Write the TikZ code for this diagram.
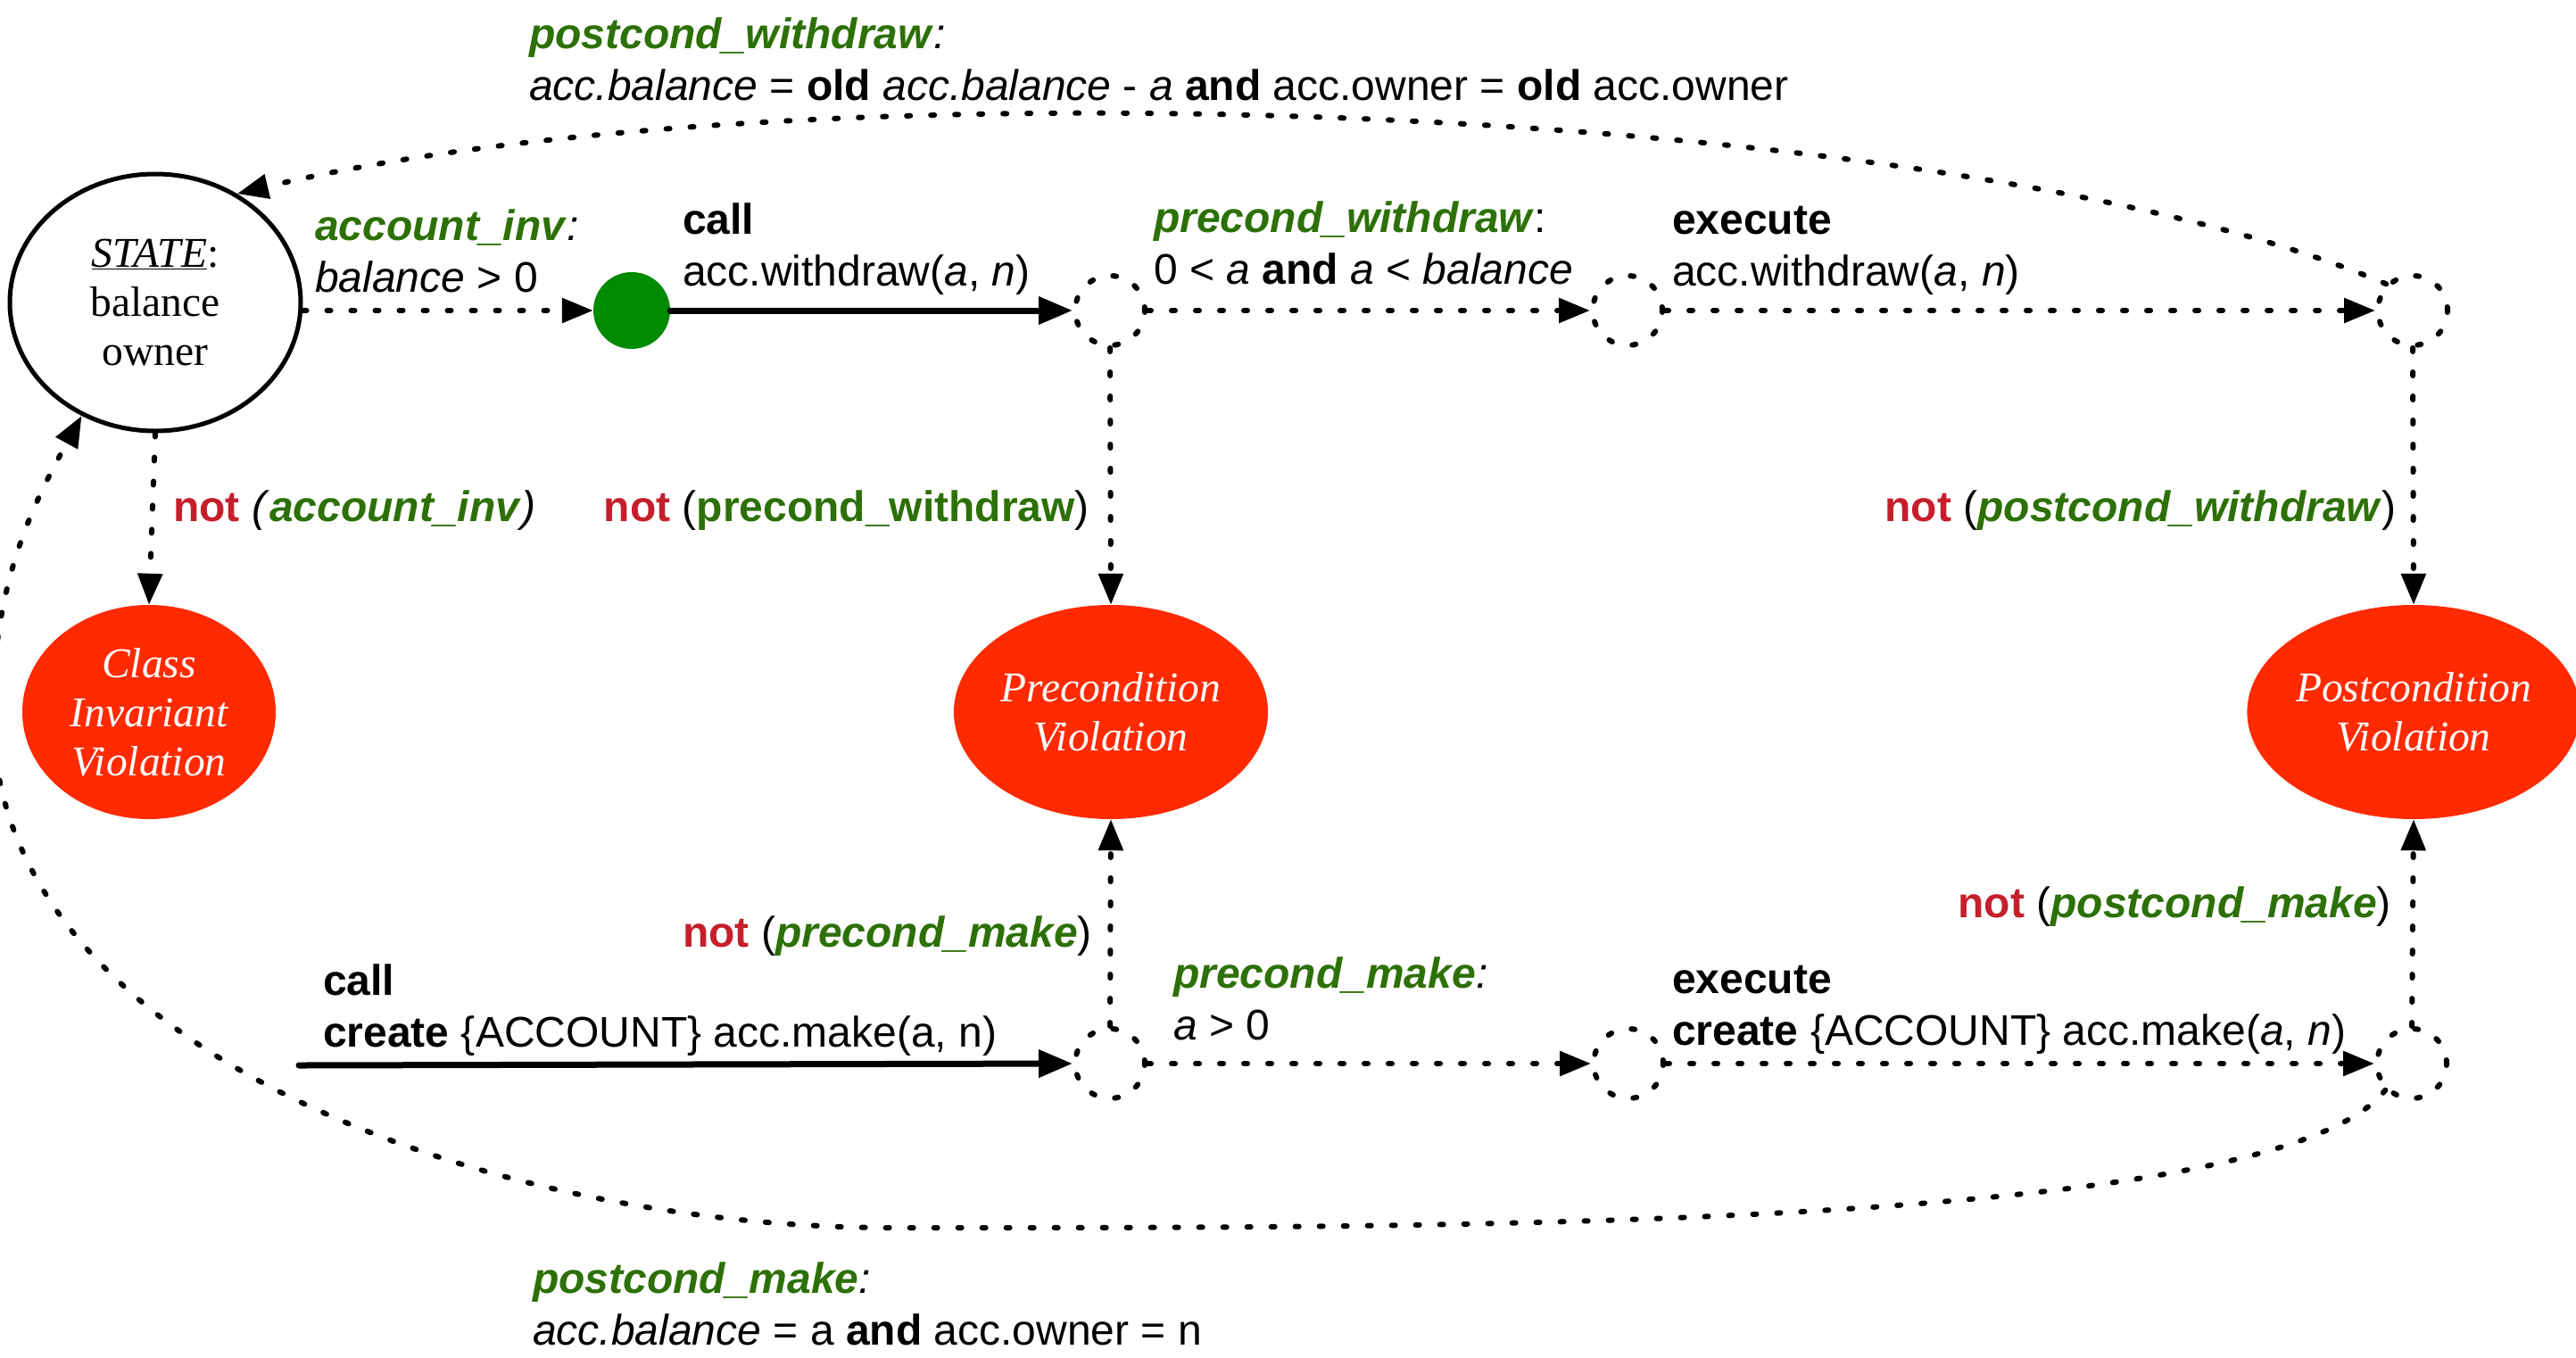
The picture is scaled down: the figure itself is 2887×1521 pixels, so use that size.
\documentclass[tikz,border=0pt]{standalone}
\usepackage{fontspec}
\setmainfont{Liberation Sans}
\newfontfamily\statefont{Liberation Serif}
\usetikzlibrary{arrows.meta,shapes.geometric}
\definecolor{gtext}{RGB}{44,112,6}
\definecolor{rtext}{RGB}{197,31,43}
\definecolor{viol}{RGB}{255,42,0}
\definecolor{dotg}{RGB}{0,138,0}
\newcommand\gtx[1]{\textcolor{gtext}{\textbf{\textit{#1}}}}
\newcommand\rnot{\textcolor{rtext}{\textbf{not}}}
\begin{document}
\begin{tikzpicture}[x=1pt,y=-1pt,
  lbl/.style={inner sep=0pt, font=\fontsize{48}{57.5}\selectfont, align=left, anchor=base west},
  lblr/.style={lbl, anchor=base east},
  dotline/.style={line width=6pt, line cap=round, dash pattern=on 4pt off 23pt},
  dotarrow/.style={dotline, -{Triangle[length=35pt,width=27pt]}},
  solidarrow/.style={line width=7pt, line cap=round, -{Triangle[length=38pt,width=30pt]}},
  junction/.style={circle, minimum size=78pt, inner sep=0pt, dotline, draw},
  violation/.style={ellipse, fill=viol, inner sep=0pt, minimum height=240pt, text=white,
    font=\statefont\itshape\fontsize{47.5}{55}\selectfont, align=center},
  statenode/.style={ellipse, draw, line width=5pt, minimum width=326pt, minimum height=288pt,
    inner sep=0pt, font=\statefont\fontsize{47.5}{55}\selectfont, align=center}
]
\useasboundingbox (0,0) rectangle (2887,1521);

% states
\node[statenode] (STATE) at (174,339) {\underline{\textit{STATE}}:\\balance\\owner};
\node[circle, fill=dotg, minimum size=86pt, inner sep=0pt] (dot) at (708,348) {};
\node[junction] (c1) at (1244,348) {};
\node[junction] (c2) at (1824,348) {};
\node[junction] (c3) at (2704,348) {};
\node[junction] (c4) at (1244,1192) {};
\node[junction] (c5) at (1825,1192) {};
\node[junction] (c6) at (2703,1192) {};
\node[violation, minimum width=284pt] (CIV) at (167,798) {Class\\Invariant\\Violation};
\node[violation, minimum width=352pt] (PV) at (1245,798) {Precondition\\Violation};
\node[violation, minimum width=352pt] (POV) at (2705,798) {Postcondition\\Violation};
\coordinate (mkstart) at (335,1194);

% connectors
\draw[dotarrow] (STATE.east |- dot.center) -- (dot.west);
\draw[solidarrow] (dot.east) -- (c1.west);
\draw[dotarrow] (c1.east) -- (c2.west);
\draw[dotarrow] (c2.east) -- (c3.west);
\draw[dotarrow] (c3.north west) .. controls (2200,115) and (900,65) .. (STATE.53);
\draw[dotarrow] (STATE.south) -- (CIV.north);
\draw[dotarrow] (c1.south) -- (PV.north);
\draw[dotarrow] (c3.south) -- (POV.north);
\draw[solidarrow] (mkstart) -- (c4.west);
\draw[dotarrow] (c4.east) -- (c5.west);
\draw[dotarrow] (c5.east) -- (c6.west);
\draw[dotarrow] (c4.north) -- (PV.south);
\draw[dotarrow] (c6.north) -- (POV.south);
\draw[dotarrow] (c6.south west) .. controls (2550,1380) and (1600,1376) .. (1000,1376)
  .. controls (550,1376) and (-8,1180) .. (-8,800)
  .. controls (-8,650) and (40,560) .. (STATE.237);

% labels (base = baseline of the last line)
\node[lbl] (postw) at (593,112) {\gtx{postcond\_withdraw}\textit{:}\\
  \textit{acc.balance} = \textbf{old} \textit{acc.balance} - \textit{a} \textbf{and} acc.owner = \textbf{old} acc.owner};
\node[lbl] (inv) at (353,327) {\gtx{account\_inv}\textit{:}\\\textit{balance} > 0};
\node[lbl] (callw) at (765,320) {\textbf{call}\\acc.withdraw(\textit{a}, \textit{n})};
\node[lbl] (prew) at (1293,318) {\gtx{precond\_withdraw}:\\0 < \textit{a} \textbf{and} \textit{a} < \textit{balance}};
\node[lbl] (execw) at (1874,320) {\textbf{execute}\\acc.withdraw(\textit{a}, \textit{n})};
\node[lbl] (ninv) at (194,584) {\rnot{} \textit{(}\gtx{account\_inv}\textit{)}};
\node[lblr] (nprew) at (1221,584) {\rnot{} (\textcolor{gtext}{\textbf{precond\_withdraw}})};
\node[lblr] (npostw) at (2686,584) {\rnot{} (\gtx{postcond\_withdraw})};
\node[lblr] (nprem) at (1224,1061) {\rnot{} (\gtx{precond\_make})};
\node[lblr] (npostm) at (2680,1028) {\rnot{} (\gtx{postcond\_make})};
\node[lbl] (callm) at (362,1173) {\textbf{call}\\\textbf{create} \{ACCOUNT\} acc.make(a, n)};
\node[lbl] (prem) at (1315,1165) {\gtx{precond\_make}\textit{:}\\\textit{a} > 0};
\node[lbl] (execm) at (1874,1171) {\textbf{execute}\\\textbf{create} \{ACCOUNT\} acc.make(\textit{a}, \textit{n})};
\node[lbl] (postm) at (597,1507) {\gtx{postcond\_make}\textit{:}\\\textit{acc.balance} = a \textbf{and} acc.owner = n};
\end{tikzpicture}
\end{document}
